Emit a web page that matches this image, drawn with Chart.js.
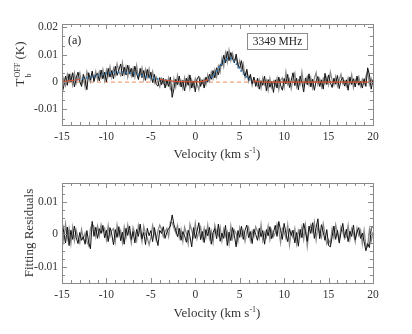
<!DOCTYPE html>
<html>
<head>
<meta charset="utf-8">
<script src="https://cdn.jsdelivr.net/npm/chart.js@4.4.1/dist/chart.umd.min.js"></script>
<style>
body { margin:0; background:#fff; width:412px; height:334px; overflow:hidden; position:relative;
       font-family:"Liberation Serif","DejaVu Serif",serif; color:#333; }
canvas { position:absolute; left:0; }
#topPanel { top:0; }
#botPanel { top:167px; }
.lbl { position:absolute; white-space:nowrap; line-height:15px; }
.xt { font-size:13px; transform:translateX(-50%); }
.yt { font-size:13px; transform:translate(-50%,-50%) rotate(-90deg); }
sup { font-size:8px; vertical-align:5px; }
.ss { display:inline-flex; flex-direction:column; font-size:8px; line-height:8px; vertical-align:0; margin-left:1px; }
.ss span:first-child { position:relative; top:-4px; }
.ss span:last-child { position:relative; top:-1px; }
#tagA { left:68px; top:33px; font-size:12px; color:#222; }
#freqBox { left:247px; top:33px; width:59px; height:15px; border:1px solid #8c8c8c; font-size:11.5px;
           color:#222; text-align:center; line-height:15px; }
</style>
</head>
<body>
<canvas id="topPanel" width="412" height="167"></canvas>
<canvas id="botPanel" width="412" height="167"></canvas>

<div class="lbl" id="tagA">(a)</div>
<div class="lbl" id="freqBox">3349 MHz</div>
<div class="lbl xt" style="left:217px; top:143px;">Velocity (km s<sup>-1</sup>)</div>
<div class="lbl xt" style="left:217px; top:302px;">Velocity (km s<sup>-1</sup>)</div>
<div class="lbl yt" style="left:23px; top:64px;">T<span class="ss"><span>OFF</span><span>b</span></span> (K)</div>
<div class="lbl yt" style="left:28px; top:233px;">Fitting Residuals</div>

<script>
// ── Dados (mK) ───────────────────────────────────────────────

const velocity = [
  -15,-14.8,-14.6,-14.4,-14.2,-14,-13.8,-13.6,-13.4,-13.2,
  -13,-12.8,-12.6,-12.4,-12.2,-12,-11.8,-11.6,-11.4,-11.2,
  -11,-10.8,-10.6,-10.4,-10.2,-10,-9.8,-9.6,-9.4,-9.2,
  -9,-8.8,-8.6,-8.4,-8.2,-8,-7.8,-7.6,-7.4,-7.2,
  -7,-6.8,-6.6,-6.4,-6.2,-6,-5.8,-5.6,-5.4,-5.2,
  -5,-4.8,-4.6,-4.4,-4.2,-4,-3.8,-3.6,-3.4,-3.2,
  -3,-2.8,-2.6,-2.4,-2.2,-2,-1.8,-1.6,-1.4,-1.2,
  -1,-0.8,-0.6,-0.4,-0.2,0,0.2,0.4,0.6,0.8,
  1,1.2,1.4,1.6,1.8,2,2.2,2.4,2.6,2.8,
  3,3.2,3.4,3.6,3.8,4,4.2,4.4,4.6,4.8,
  5,5.2,5.4,5.6,5.8,6,6.2,6.4,6.6,6.8,
  7,7.2,7.4,7.6,7.8,8,8.2,8.4,8.6,8.8,
  9,9.2,9.4,9.6,9.8,10,10.2,10.4,10.6,10.8,
  11,11.2,11.4,11.6,11.8,12,12.2,12.4,12.6,12.8,
  13,13.2,13.4,13.6,13.8,14,14.2,14.4,14.6,14.8,
  15,15.2,15.4,15.6,15.8,16,16.2,16.4,16.6,16.8,
  17,17.2,17.4,17.6,17.8,18,18.2,18.4,18.6,18.8,
  19,19.2,19.4,19.6,19.8,20
];

const topBlack = [
  -4.2,-1.5,2.2,-1.2,3.0,0.0,3.4,-1.8,1.5,3.6,
  0.2,-1.6,2.8,0.9,-2.8,3.4,0.8,4.0,0.2,2.6,
  3.2,0.4,4.4,1.2,3.6,0.0,5.0,1.8,4.2,1.2,
  5.8,2.4,4.4,6.6,2.2,5.4,2.6,6.2,2.9,5.0,
  1.8,5.8,3.0,0.9,5.0,1.6,4.2,0.6,4.6,1.4,
  3.6,-0.2,2.8,-0.9,-1.5,1.6,-1.0,1.4,-2.2,0.8,
  -1.6,1.8,-5.6,-2.4,1.0,-1.0,2.2,-1.8,0.6,-3.2,
  1.4,-1.2,2.6,-2.2,0.4,-3.6,1.1,2.1,-1.6,0.8,
  -2.2,1.8,-0.1,2.8,1.0,4.2,1.5,5.2,2.6,6.4,
  6.0,9.8,7.0,11.2,7.8,10.8,8.4,7.0,10.2,6.4,
  5.0,7.8,3.6,2.2,4.6,0.6,2.8,-0.6,1.8,-1.6,
  1.4,-2.6,0.5,-1.2,2.1,-3.2,0.9,-1.9,0.2,-3.8,
  0.8,-2.2,1.8,-1.2,-3.0,1.3,-0.7,2.8,-2.0,0.6,
  3.4,-1.3,1.4,-2.8,2.2,-0.1,-3.6,1.5,-1.0,3.0,
  -1.8,1.0,-3.0,0.4,2.0,-1.6,0.8,-2.6,3.2,-0.9,
  2.6,-0.2,-2.0,1.4,-0.8,2.4,-2.4,0.6,1.7,-1.5,
  0.8,-3.0,1.8,-0.9,1.2,-1.8,2.2,-1.2,0.3,-2.2,
  1.2,-1.6,5.2,2.6,-2.6,0.9
];

const topGray = [
  -2.4,1.2,-1.2,2.8,0.2,2.6,-1.0,3.2,-0.4,2.0,
  3.4,-0.4,1.6,-1.8,3.8,1.6,0.0,3.0,0.8,3.8,
  0.9,3.8,1.6,4.6,0.6,4.4,2.2,5.6,1.8,5.0,
  2.6,6.6,3.8,2.4,7.0,2.8,5.6,1.8,5.2,2.2,
  5.0,1.8,6.0,1.6,2.6,5.2,1.0,4.6,1.8,4.8,
  0.9,3.8,-0.2,1.8,-0.3,-1.8,1.2,-0.6,0.7,-1.2,
  1.4,-2.6,-3.4,1.2,-1.8,2.4,-1.0,0.5,-2.4,1.6,
  -1.2,1.9,-2.4,0.8,-1.6,1.3,-0.8,-2.8,1.1,-0.5,
  1.1,-1.0,2.6,0.4,3.6,1.2,4.4,1.8,5.8,3.6,
  8.6,5.6,10.6,7.2,11.6,7.8,10.4,7.6,8.8,5.6,
  7.8,4.4,6.6,1.6,4.0,0.2,2.2,-1.2,1.2,-0.3,
  -1.5,1.0,-2.2,1.5,-1.0,0.6,-3.0,1.3,-2.0,0.3,
  -1.3,1.4,-2.8,0.6,1.5,-1.9,3.6,-0.8,1.0,-2.4,
  1.2,3.2,-1.7,0.7,-1.0,3.6,-1.4,0.3,2.0,-1.1,
  1.6,-2.1,1.3,3.4,-0.9,1.2,-1.8,1.3,-0.6,1.7,
  -1.0,3.6,0.7,-1.1,2.0,-1.4,0.9,2.8,-0.7,0.4,
  -1.5,1.5,-0.6,2.7,-2.0,0.9,-0.4,1.9,-1.5,1.0,
  -0.7,2.0,3.8,-0.9,1.3,-0.7
];

// ajuste gaussiano (componente larga + estreita)
const fitVel = [
  -15,-14.5,-14,-13.5,-13,-12.5,-12,-11.5,-11,-10.5,
  -10,-9.5,-9,-8.5,-8,-7.5,-7,-6.5,-6,-5.5,
  -5,-4.5,-4,-3.5,-3,-2.5,-2,-1.5,-1,-0.5,
  0,0.5,1,1.5,2,2.5,3,3.5,4,4.5,
  5,5.5,6,6.5,7,7.5,8,8.5,9,9.5,
  10,10.5,11,11.5,12,12.5,13,13.5,14,14.5,
  15,15.5,16,16.5,17,17.5,18,18.5,19,19.5,20
];
const fitTotal = [
  0.24,0.36,0.52,0.73,0.99,1.30,1.65,2.03,2.41,2.79,
  3.12,3.38,3.54,3.60,3.54,3.38,3.12,2.79,2.41,2.03,
  1.65,1.30,0.99,0.73,0.52,0.36,0.24,0.16,0.10,0.06,
  0.03,0.12,0.35,0.98,2.30,4.37,6.76,8.48,8.66,7.19,
  4.85,2.67,1.19,0.43,0.13,0.03,0,0,0,0,
  0,0,0,0,0,0,0,0,0,0,
  0,0,0,0,0,0,0,0,0,0,0
];

const baseVel = [-15, 20];
const baseVal = [0, 0];

const residBlack = [
  4.4,0.6,-2.6,2.3,-3.4,1.3,-1.5,2.6,-0.9,-2.8,
  0.6,-1.8,-0.7,-3.0,1.2,-2.4,-4.4,4.0,-0.6,2.2,
  -1.2,1.8,0.3,2.8,-1.0,1.3,-2.2,2.1,0.1,-3.2,
  1.5,-0.9,2.4,-1.9,0.7,-3.0,1.9,-0.3,2.6,-1.5,
  0.9,-2.6,1.6,-0.6,3.2,-1.3,0.6,-3.1,1.9,-0.4,
  1.2,-2.2,2.1,-0.9,-3.4,1.3,0.3,2.4,-1.2,0.7,
  1.8,2.6,6.0,3.0,1.4,-0.7,1.9,-1.8,0.9,-0.4,
  -2.4,1.3,-0.6,-3.8,2.1,-1.2,1.0,3.6,-1.6,0.9,
  -2.5,1.5,-0.4,2.2,-3.0,0.6,1.8,-1.3,3.2,-2.1,
  0.4,-1.2,2.8,-3.4,0.7,-1.9,2.1,-0.3,-3.8,1.2,
  -0.9,2.5,-1.5,1.3,2.9,-1.0,0.9,-2.8,1.6,0.0,
  -1.8,1.9,-0.7,1.2,-3.0,1.5,-0.4,2.4,-1.3,0.6,
  2.8,-0.6,4.0,1.2,-1.5,3.4,0.4,-2.2,1.8,-0.3,
  1.3,-2.6,0.6,-3.6,1.6,-1.0,3.4,0.9,-2.1,2.6,
  0.3,3.6,-1.2,2.1,4.8,-1.3,3.0,0.7,-1.8,1.5,
  -3.4,-3.8,-0.7,2.6,-1.5,1.3,-2.6,0.6,3.4,-0.9,
  1.6,-2.2,1.0,-0.6,2.9,-1.6,0.7,2.1,-1.2,0.4,
  -2.2,-5.0,-2.8,-4.0,1.8,2.6
];

const residGray = [
  2.4,-1.8,3.2,-1.2,1.8,-2.8,2.2,-1.9,1.3,-1.0,
  -2.6,1.5,-1.3,0.4,-2.2,-3.4,1.8,3.2,2.4,-0.7,
  2.6,-0.4,3.0,0.9,1.9,-1.6,2.8,-0.7,1.3,1.8,
  -2.1,2.9,-0.3,1.2,-2.4,2.2,-1.0,3.0,0.4,-2.6,
  2.1,0.3,-1.9,2.8,0.7,-2.2,2.5,0.1,-1.0,-3.2,
  -1.0,2.8,0.6,-1.8,1.2,2.9,1.6,-0.7,0.9,1.9,
  -0.6,3.8,3.6,2.0,0.6,2.8,-0.9,1.5,-2.1,2.2,
  0.3,-2.8,3.2,1.2,-0.7,3.4,-1.3,0.7,2.3,-1.2,
  1.9,-0.9,2.9,-1.3,1.0,-2.4,2.8,0.6,-0.4,2.2,
  -1.9,1.6,-0.6,0.9,-2.8,2.6,-1.2,1.3,0.3,-2.2,
  2.0,-0.4,1.2,-2.1,0.9,2.2,-1.8,1.0,-0.6,2.3,
  0.9,-1.2,3.0,-1.9,0.6,-0.9,2.6,-1.6,1.3,-0.7,
  0.4,3.2,1.5,-2.5,1.9,0.9,-1.2,2.9,-3.2,0.7,
  -0.9,1.8,-2.8,1.2,-0.6,2.3,-1.5,2.8,-3.6,1.0,
  2.9,0.9,3.8,-1.6,2.5,0.3,-1.0,3.2,0.1,-2.9,
  -1.6,-2.8,1.8,-1.0,3.0,0.4,-1.9,2.3,0.9,-1.3,
  -0.6,2.8,-1.5,1.8,0.3,-2.2,1.9,-0.3,1.3,-2.9,
  1.2,-3.4,-3.8,1.5,-2.0,0.7
];

// ── Eixos ────────────────────────────────────────────────────

const xTickValues = [-15, -10, -5, 0, 5, 10, 15, 20];
const topYTicks  = [-10, 0, 10, 20];
const topYLabels = ['-0.01', '0', '0.01', '0.02'];
const botYTicks  = [-10, 0, 10];
const botYLabels = ['-0.01', '0', '0.01'];

const pts = (xs, ys) => xs.map((x, i) => ({ x, y: ys[i] }));

// moldura com ticks para dentro nos quatro lados (estilo IDL)
const frameTicks = {
    id: 'frameTicks',
    afterDatasetsDraw(chart, args, opts) {
        const { ctx, chartArea: a, scales: { x, y } } = chart;
        ctx.save();
        ctx.strokeStyle = '#8a8a8a';
        ctx.lineWidth = 1;
        ctx.beginPath();
        for (let v = -15; v <= 20; v++) {
            const px = Math.round(x.getPixelForValue(v)) + 0.5;
            const len = v % 5 === 0 ? 5 : 3;
            ctx.moveTo(px, a.bottom); ctx.lineTo(px, a.bottom - len);
            ctx.moveTo(px, a.top);    ctx.lineTo(px, a.top + len);
        }
        const k0 = Math.ceil(y.min / opts.yStep), k1 = Math.floor(y.max / opts.yStep);
        for (let k = k0; k <= k1; k++) {
            const py = Math.round(y.getPixelForValue(k * opts.yStep)) + 0.5;
            const len = k % opts.perMajor === 0 ? 5 : 3;
            ctx.moveTo(a.left, py);  ctx.lineTo(a.left + len, py);
            ctx.moveTo(a.right, py); ctx.lineTo(a.right - len, py);
        }
        ctx.stroke();
        ctx.strokeRect(Math.round(a.left) + 0.5, Math.round(a.top) + 0.5,
                       Math.round(a.right - a.left), Math.round(a.bottom - a.top));
        ctx.restore();
    }
};

const tickFont = { family: "'Liberation Serif', serif", size: 11.5 };

function makePanel(canvasId, p) {
    const ctx = document.getElementById(canvasId).getContext('2d');
    return new Chart(ctx, {
        type: 'line',
        data: { datasets: p.datasets },
        options: {
            responsive: false, animation: false, events: [],
            layout: { padding: { left: 0, right: 39, top: p.top, bottom: p.bottom } },
            elements: { point: { radius: 0 }, line: { tension: 0 } },
            plugins: {
                legend: { display: false }, tooltip: { enabled: false },
                frameTicks: { yStep: p.yStep, perMajor: p.perMajor },
            },
            scales: {
                x: {
                    type: 'linear', min: -15, max: 20,
                    afterBuildTicks: s => { s.ticks = xTickValues.map(v => ({ value: v })); },
                    afterFit: s => { s.height = 20; },
                    grid: { display: false, drawTicks: false }, border: { display: false },
                    ticks: { color: '#333', font: tickFont, padding: 5, maxRotation: 0, autoSkip: false },
                },
                y: {
                    type: 'linear', min: p.yMin, max: p.yMax,
                    afterBuildTicks: s => { s.ticks = p.yTicks.map(v => ({ value: v })); },
                    afterFit: s => { s.width = 62; },
                    grid: { display: false, drawTicks: false }, border: { display: false },
                    ticks: { color: '#333', font: tickFont, padding: 4,
                             callback: v => p.yLabels[p.yTicks.indexOf(v)] },
                },
            },
        },
        plugins: [frameTicks],
    });
}

const lowFit = c => (c.p0.parsed.y < 1 && c.p1.parsed.y < 1);

makePanel('topPanel', {
    top: 24, bottom: 22, yMin: -15.7, yMax: 21.2,
    yTicks: topYTicks, yLabels: topYLabels, yStep: 10 / 3, perMajor: 3,
    datasets: [
        { data: pts(fitVel, fitTotal), borderColor: '#d9532c', borderWidth: 1.2, order: 0,
          segment: { borderColor: c => lowFit(c) ? '#d9532c' : 'transparent' } },
        { data: pts(fitVel, fitTotal), borderColor: '#2b7bbd', borderWidth: 2, borderDash: [1.5, 2.5], order: 1,
          segment: { borderColor: c => (c.p0.parsed.y >= 0.5 || c.p1.parsed.y >= 0.5) ? '#2b7bbd' : 'transparent' } },
        { data: pts(velocity, topBlack), borderColor: '#111', borderWidth: 1, order: 2 },
        { data: pts(velocity, topGray),  borderColor: '#8a8a8a', borderWidth: 1.3, order: 3 },
        { data: pts(baseVel, baseVal), borderColor: '#f3a27a', borderWidth: 1.2, borderDash: [4, 3], order: 4 },
    ],
});

makePanel('botPanel', {
    top: 16, bottom: 31, yMin: -14.9, yMax: 15.8,
    yTicks: botYTicks, yLabels: botYLabels, yStep: 2.5, perMajor: 4,
    datasets: [
        { data: pts(velocity, residBlack), borderColor: '#111', borderWidth: 1, order: 0 },
        { data: pts(velocity, residGray),  borderColor: '#8a8a8a', borderWidth: 1.3, order: 1 },
    ],
});
</script>
</body>
</html>
